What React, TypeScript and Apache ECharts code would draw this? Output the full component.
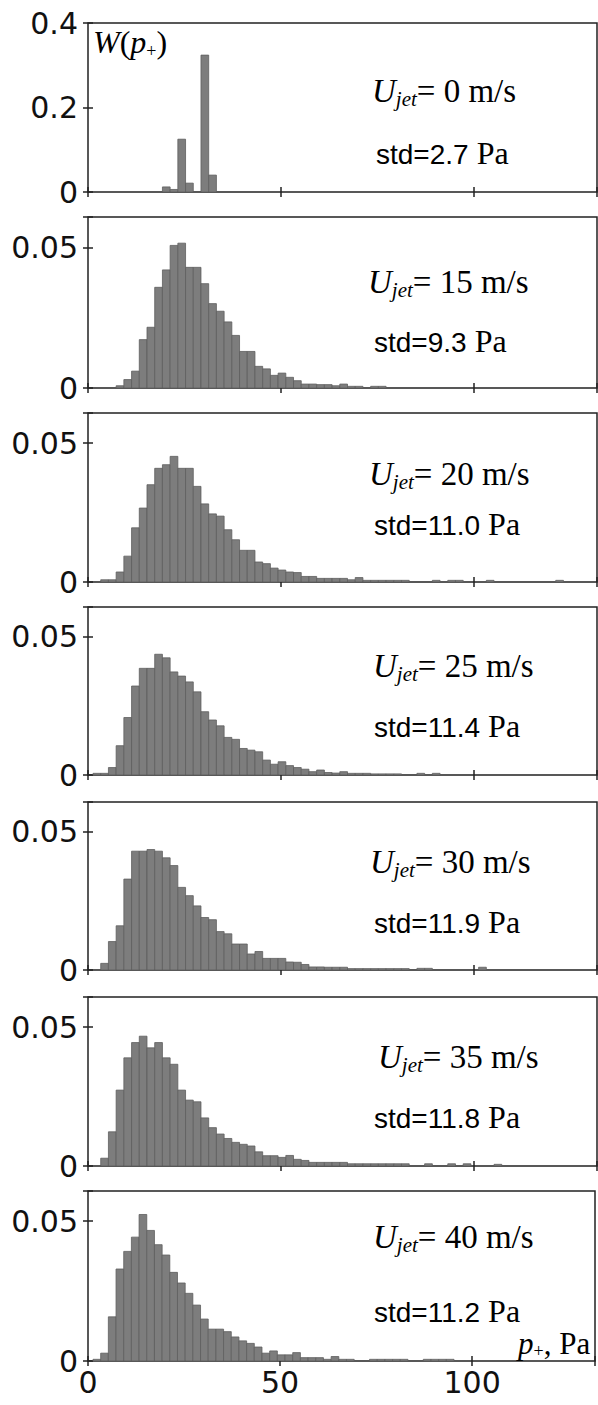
import React, { useEffect, useRef } from "react";
import * as echarts from "echarts";

// ---------- data ----------
const BIN_ORIGIN = 1.3; // left edge of first bin, Pa
const BIN_WIDTH = 2; // Pa
const X_MIN = 0;
const X_MAX = 132;
const X_INTERVAL = 50;
const xTickValues = [0, 50, 100];
const xTickLabels = ["0", "50", "100"];

const jetSpeeds = ["0", "15", "20", "25", "30", "35", "40"];
const stdValues = ["2.7", "9.3", "11.0", "11.4", "11.9", "11.8", "11.2"];

const yTicksFirst = [0, 0.2, 0.4];
const yTickLabelsFirst = ["0", "0.2", "0.4"];
const yTicksOther = [0, 0.05];
const yTickLabelsOther = ["0", "0.05"];
const yMaxFirst = 0.4;
const yMaxOther = 0.0608;

const w0 = [0, 0, 0, 0, 0, 0, 0, 0, 0, 0.012, 0.006, 0.125, 0.021, 0, 0.324, 0.04];
const w15 = [0, 0, 0, 0.0008, 0.003, 0.006, 0.0172, 0.0216, 0.0358, 0.042, 0.0507, 0.0515, 0.0429, 0.0429, 0.0371, 0.03, 0.0273, 0.0235, 0.0187, 0.013, 0.013, 0.0077, 0.0068, 0.0045, 0.0053, 0.0038, 0.0026, 0.0014, 0.0014, 0.0012, 0.0012, 0.0008, 0.0014, 0.0006, 0.0006, 0, 0.0006, 0.0006];
const w20 = [0, 0.0008, 0.0008, 0.0036, 0.0093, 0.0195, 0.0266, 0.035, 0.0409, 0.0422, 0.0452, 0.0409, 0.0409, 0.0344, 0.0281, 0.0245, 0.0237, 0.0188, 0.0152, 0.0114, 0.0114, 0.0072, 0.0066, 0.005, 0.0043, 0.0036, 0.0034, 0.002, 0.002, 0.0013, 0.0013, 0.0013, 0.0013, 0.0008, 0.0016, 0.0006, 0.0006, 0.0006, 0.0006, 0.0006, 0.0006, 0, 0, 0, 0.0006, 0, 0.0006, 0.0006, 0, 0, 0, 0.0006, 0, 0, 0, 0, 0, 0, 0, 0, 0.0006];
const w25 = [0.0006, 0.0006, 0.0027, 0.0106, 0.0208, 0.0322, 0.0386, 0.0386, 0.0437, 0.0424, 0.0373, 0.0358, 0.0337, 0.0301, 0.0229, 0.0199, 0.0178, 0.0136, 0.0129, 0.0096, 0.009, 0.0084, 0.0054, 0.0039, 0.0048, 0.0034, 0.0027, 0.0021, 0.0012, 0.0018, 0.0009, 0.0007, 0.0012, 0.0006, 0.0006, 0.0006, 0.0004, 0.0004, 0.0004, 0.0004, 0, 0, 0.0006, 0, 0.0006];
const w30 = [0, 0.0024, 0.0103, 0.016, 0.0329, 0.043, 0.043, 0.0436, 0.043, 0.0406, 0.0378, 0.0299, 0.0269, 0.0232, 0.019, 0.0182, 0.0139, 0.0131, 0.0094, 0.0094, 0.0058, 0.0067, 0.0042, 0.0042, 0.0042, 0.0029, 0.0028, 0.002, 0.0011, 0.0011, 0.001, 0.001, 0.001, 0.0005, 0.0005, 0.0005, 0.0005, 0.0005, 0.0005, 0.0005, 0.0005, 0, 0.0006, 0.0006, 0, 0, 0, 0, 0, 0, 0.001];
const w35 = [0, 0.0028, 0.0123, 0.0273, 0.0389, 0.0444, 0.0467, 0.0425, 0.0444, 0.0389, 0.0366, 0.0273, 0.0237, 0.0231, 0.0173, 0.0138, 0.0115, 0.0099, 0.0085, 0.0078, 0.0072, 0.0051, 0.0037, 0.0037, 0.0031, 0.0038, 0.0024, 0.002, 0.0013, 0.0013, 0.0013, 0.0013, 0.0013, 0.0008, 0.0008, 0.0008, 0.0008, 0.0008, 0.0008, 0.0008, 0.0008, 0, 0, 0.0008, 0, 0, 0.0008, 0, 0.0008, 0, 0, 0, 0.0006];
const w40 = [0.0006, 0.0028, 0.0158, 0.0329, 0.0392, 0.0443, 0.0524, 0.0467, 0.0416, 0.0379, 0.0317, 0.0279, 0.0242, 0.02, 0.015, 0.0114, 0.0114, 0.0105, 0.0086, 0.0072, 0.0063, 0.005, 0.0028, 0.0036, 0.0022, 0.0022, 0.003, 0.0012, 0.0012, 0.0012, 0.0006, 0.0016, 0.0006, 0.0006, 0, 0, 0.0006, 0.0006, 0.0006, 0.0006, 0.0006, 0, 0, 0.0006, 0.0006, 0.0006, 0.0006];

const panelSeries = [w0, w15, w20, w25, w30, w35, w40];

// ---------- layout (positions only) ----------
const W = 598;
const H = 1405;
const GRID_LEFT = 88;
const GRID_WIDTH = 509;
const panelTops = [23, 217, 413, 607, 802, 997, 1191];
const panelBottoms = [192, 388, 582, 775, 970, 1166, 1361];
const ujetPos = [[372, 102], [368, 293], [369, 485], [373, 677], [370, 873], [378, 1068], [373, 1248]];
const stdPos = [[376, 164], [374, 352], [374, 535], [374, 737], [374, 933], [374, 1128], [374, 1322]];

const SERIF = "Liberation Serif";
const SANS = "Liberation Sans";
const TICK_FONT = "DejaVu Sans";
const TICK_SIZE = 30;
const BAR_FILL = "#7d7d7d";
const BAR_EDGE = "#5e5e5e";
const FRAME = "#222";

let measureCtx: CanvasRenderingContext2D | null = null;
function measure(text: string, size: number, family: string, italic: boolean) {
  if (!measureCtx) measureCtx = document.createElement("canvas").getContext("2d");
  measureCtx!.font = `${italic ? "italic " : ""}${size}px "${family}"`;
  return measureCtx!.measureText(text).width;
}

type Run = { text: string; size: number; family: string; italic?: boolean; dy?: number };
// central baseline offset (fraction of em) for the used fonts
const CENTRAL: Record<string, number> = { "Liberation Serif": 0.3375, "Liberation Sans": 0.3465 };

function layoutRuns(x: number, baseline: number, runs: Run[]) {
  const els: any[] = [];
  let cx = x;
  for (const r of runs) {
    const w = measure(r.text, r.size, r.family, !!r.italic);
    els.push({
      type: "text",
      x: cx,
      y: baseline + (r.dy || 0) - CENTRAL[r.family] * r.size,
      silent: true,
      style: {
        text: r.text,
        fontSize: r.size,
        fontFamily: r.family,
        fontStyle: r.italic ? "italic" : "normal",
        fill: "#000",
        align: "left",
        verticalAlign: "middle",
      },
    });
    cx += w;
  }
  return els;
}

function buildOption() {
  const grid: any[] = [];
  const xAxis: any[] = [];
  const yAxis: any[] = [];
  const series: any[] = [];
  const graphic: any[] = [];

  panelSeries.forEach((vals, i) => {
    const first = i === 0;
    const last = i === panelSeries.length - 1;
    const yTicks = first ? yTicksFirst : yTicksOther;
    const yLabels = first ? yTickLabelsFirst : yTickLabelsOther;
    const yMax = first ? yMaxFirst : yMaxOther;
    const yInterval = yTicks[1] - yTicks[0];

    grid.push({
      left: GRID_LEFT,
      width: GRID_WIDTH,
      top: panelTops[i],
      height: panelBottoms[i] - panelTops[i],
      show: true,
      borderColor: FRAME,
      borderWidth: 1.5,
      backgroundColor: "transparent",
    });

    const tick = { show: true, inside: true, length: 5, lineStyle: { color: FRAME, width: 1.5 } };
    const xFmt = (v: number) => {
      const k = xTickValues.findIndex((t) => Math.abs(t - v) < 1e-9);
      return k >= 0 ? xTickLabels[k] : "";
    };
    const yFmt = (v: number) => {
      const k = yTicks.findIndex((t) => Math.abs(t - v) < 1e-9);
      return k >= 0 ? yLabels[k] : "";
    };

    xAxis.push({
      type: "value",
      gridIndex: i,
      position: "bottom",
      min: X_MIN,
      max: X_MAX,
      interval: X_INTERVAL,
      axisLine: { show: false },
      axisTick: tick,
      splitLine: { show: false },
      axisLabel: {
        show: last,
        formatter: xFmt,
        fontFamily: TICK_FONT,
        fontSize: TICK_SIZE,
        color: "#111",
        margin: 6,
        showMinLabel: true,
        showMaxLabel: true,
      },
    });
    xAxis.push({
      type: "value",
      gridIndex: i,
      position: "top",
      min: X_MIN,
      max: X_MAX,
      interval: X_INTERVAL,
      axisLine: { show: false },
      axisTick: tick,
      splitLine: { show: false },
      axisLabel: { show: false },
    });
    yAxis.push({
      type: "value",
      gridIndex: i,
      position: "left",
      min: 0,
      max: yMax,
      interval: yInterval,
      axisLine: { show: false },
      axisTick: tick,
      splitLine: { show: false },
      axisLabel: {
        formatter: yFmt,
        fontFamily: TICK_FONT,
        fontSize: TICK_SIZE,
        color: "#111",
        margin: 10,
        showMinLabel: true,
        showMaxLabel: true,
      },
    });
    yAxis.push({
      type: "value",
      gridIndex: i,
      position: "right",
      min: 0,
      max: yMax,
      interval: yInterval,
      axisLine: { show: false },
      axisTick: tick,
      splitLine: { show: false },
      axisLabel: { show: false },
    });

    const data: number[][] = [];
    vals.forEach((v, k) => {
      if (v > 0) data.push([BIN_ORIGIN + k * BIN_WIDTH, BIN_ORIGIN + (k + 1) * BIN_WIDTH, v]);
    });

    series.push({
      type: "custom",
      xAxisIndex: i * 2,
      yAxisIndex: i * 2,
      encode: { x: [0, 1], y: 2 },
      clip: true,
      data,
      renderItem: (params: any, api: any) => {
        const p0 = api.coord([api.value(0), api.value(2)]);
        const p1 = api.coord([api.value(1), 0]);
        return {
          type: "rect",
          shape: { x: p0[0], y: p0[1], width: p1[0] - p0[0], height: p1[1] - p0[1] },
          style: { fill: BAR_FILL, stroke: BAR_EDGE, lineWidth: 0.8 },
        };
      },
    });

    // U_jet label
    const [ux, uy] = ujetPos[i];
    graphic.push(
      ...layoutRuns(ux, uy, [
        { text: "U", size: 33, family: SERIF, italic: true },
        { text: "jet", size: 21, family: SERIF, italic: true, dy: 4 },
        { text: `= ${jetSpeeds[i]} m/s`, size: 33, family: SERIF },
      ])
    );
    // std label
    const [sx, sy] = stdPos[i];
    graphic.push(
      ...layoutRuns(sx, sy, [
        { text: `std=${stdValues[i]}`, size: 28, family: SANS },
        { text: " Pa", size: 32, family: SERIF },
      ])
    );
  });

  // axis titles
  graphic.push(
    ...layoutRuns(93, 53, [
      { text: "W", size: 32, family: SERIF, italic: true },
      { text: "(", size: 32, family: SERIF },
      { text: "p", size: 32, family: SERIF, italic: true },
      { text: "+", size: 18, family: SERIF, dy: 4 },
      { text: ")", size: 32, family: SERIF },
    ])
  );
  graphic.push(
    ...layoutRuns(518, 1354, [
      { text: "p", size: 31, family: SERIF, italic: true },
      { text: "+", size: 18, family: SERIF, dy: 3 },
      { text: ", Pa", size: 31, family: SERIF },
    ])
  );

  return {
    animation: false,
    backgroundColor: "#fff",
    grid,
    xAxis,
    yAxis,
    series,
    graphic: { elements: graphic },
  };
}

export default function App() {
  const ref = useRef<HTMLDivElement>(null);
  useEffect(() => {
    document.body.style.margin = "0";
    if (!ref.current) return;
    const chart = echarts.init(ref.current, undefined, { renderer: "svg", width: W, height: H });
    chart.setOption(buildOption());
    return () => chart.dispose();
  }, []);
  return <div ref={ref} style={{ width: W, height: H }} />;
}
